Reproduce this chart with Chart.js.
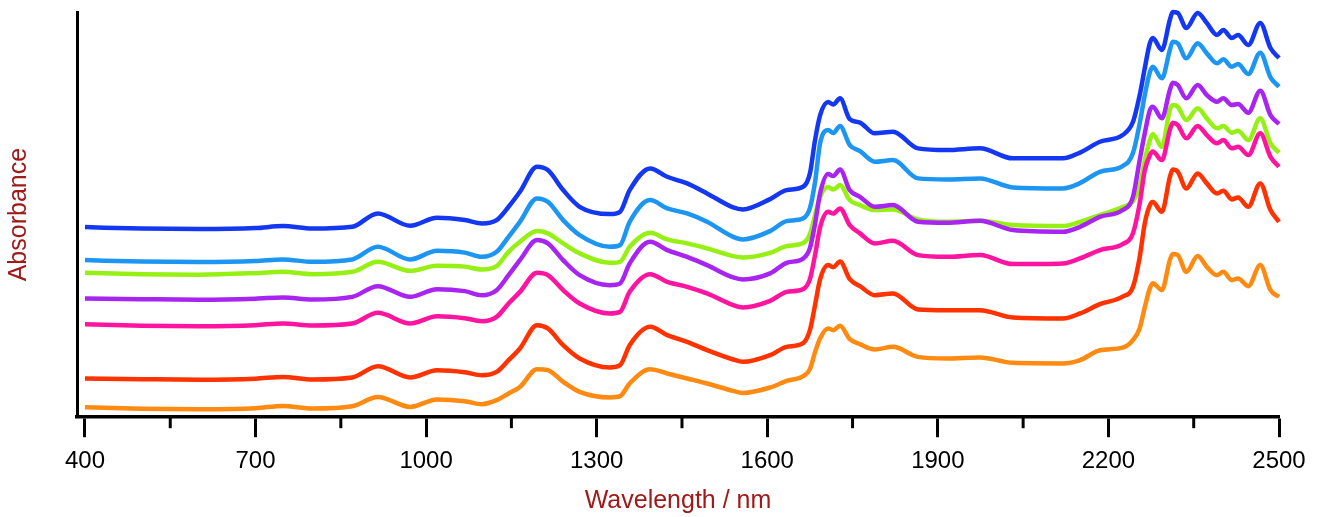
<!DOCTYPE html>
<html lang="en">
<head>
<meta charset="utf-8">
<title>Absorbance spectra</title>
<script src="https://cdn.jsdelivr.net/npm/chart.js@4.4.1/dist/chart.umd.min.js"></script>
<style>
    html, body { margin: 0; padding: 0; background: #fff; }
    #wrap { width: 1322px; height: 517px; position: relative; }
</style>
</head>
<body>
<div id="wrap"><canvas id="spectraChart"></canvas></div>
<script>
// wavelengths (nm) at which the curves were read
const wavelengths = [
    400, 500, 600, 700, 748, 800, 870, 915, 972, 1019,
    1068, 1098, 1124, 1145, 1165, 1195, 1214, 1241, 1270, 1323,
    1341, 1358, 1394, 1424, 1459, 1494, 1540, 1557, 1605, 1634,
    1663, 1675, 1684, 1693, 1707, 1716, 1728, 1745, 1763, 1789,
    1821, 1865, 1916, 1974, 2032, 2120, 2150, 2185, 2225, 2243,
    2255, 2264, 2273, 2278, 2294, 2308, 2313, 2322, 2337, 2357,
    2373, 2391, 2402, 2417, 2428, 2446, 2467, 2485, 2500
];

// absorbance, arbitrary units (spectra are stacked)
const blueSpectrum = [
    1.90, 1.885, 1.88, 1.89, 1.91, 1.885, 1.903, 2.037, 1.913, 1.993,
    1.97, 1.937, 1.97, 2.103, 2.253, 2.503, 2.47, 2.27, 2.103, 2.03,
    2.053, 2.27, 2.487, 2.403, 2.337, 2.237, 2.097, 2.077, 2.18, 2.27,
    2.303, 2.437, 2.77, 3.02, 3.15, 3.125, 3.187, 2.98, 2.945, 2.837,
    2.853, 2.687, 2.67, 2.687, 2.587, 2.587, 2.645, 2.753, 2.82, 2.95,
    3.22, 3.49, 3.74, 3.79, 3.67, 3.97, 4.05, 4.04, 3.89, 4.04,
    3.94, 3.82, 3.87, 3.79, 3.82, 3.72, 3.94, 3.69, 3.59
];
const skyBlueSpectrum = [
    1.57, 1.555, 1.55, 1.56, 1.577, 1.553, 1.577, 1.703, 1.577, 1.663,
    1.645, 1.603, 1.653, 1.803, 1.953, 2.187, 2.153, 1.97, 1.82, 1.703,
    1.72, 1.953, 2.17, 2.087, 2.037, 1.953, 1.803, 1.777, 1.86, 1.96,
    1.987, 2.09, 2.35, 2.74, 2.87, 2.84, 2.91, 2.72, 2.66, 2.553,
    2.57, 2.387, 2.377, 2.387, 2.297, 2.287, 2.34, 2.453, 2.51, 2.637,
    2.937, 3.22, 3.45, 3.503, 3.387, 3.67, 3.753, 3.737, 3.587, 3.737,
    3.637, 3.537, 3.577, 3.503, 3.53, 3.43, 3.643, 3.397, 3.303
];
const greenSpectrum = [
    1.443, 1.43, 1.425, 1.44, 1.453, 1.43, 1.453, 1.553, 1.463, 1.513,
    1.505, 1.477, 1.51, 1.653, 1.753, 1.86, 1.837, 1.737, 1.637, 1.543,
    1.553, 1.703, 1.843, 1.777, 1.737, 1.687, 1.61, 1.597, 1.643, 1.71,
    1.74, 1.83, 2.02, 2.203, 2.30, 2.275, 2.32, 2.17, 2.12, 2.07,
    2.077, 1.977, 1.953, 1.963, 1.92, 1.91, 1.953, 2.02, 2.10, 2.16,
    2.31, 2.57, 2.77, 2.83, 2.703, 3.07, 3.12, 3.103, 2.97, 3.087,
    2.987, 2.887, 2.91, 2.843, 2.863, 2.77, 2.987, 2.737, 2.643
];
const purpleSpectrum = [
    1.187, 1.18, 1.175, 1.185, 1.197, 1.177, 1.203, 1.31, 1.203, 1.28,
    1.26, 1.22, 1.27, 1.42, 1.57, 1.77, 1.737, 1.57, 1.42, 1.32,
    1.337, 1.537, 1.753, 1.67, 1.603, 1.52, 1.397, 1.377, 1.437, 1.543,
    1.585, 1.69, 1.93, 2.24, 2.43, 2.41, 2.475, 2.27, 2.203, 2.103,
    2.12, 1.953, 1.943, 1.963, 1.87, 1.853, 1.903, 2.003, 2.07, 2.20,
    2.57, 2.84, 3.07, 3.103, 2.987, 3.27, 3.343, 3.32, 3.187, 3.32,
    3.22, 3.153, 3.187, 3.12, 3.13, 3.043, 3.263, 3.02, 2.93
];
const pinkSpectrum = [
    0.93, 0.915, 0.91, 0.92, 0.937, 0.917, 0.937, 1.043, 0.937, 1.01,
    0.99, 0.96, 1.003, 1.137, 1.253, 1.443, 1.42, 1.27, 1.137, 1.037,
    1.053, 1.253, 1.43, 1.353, 1.303, 1.237, 1.12, 1.097, 1.163, 1.253,
    1.28, 1.38, 1.62, 1.90, 2.053, 2.035, 2.087, 1.92, 1.837, 1.737,
    1.763, 1.62, 1.603, 1.62, 1.53, 1.537, 1.587, 1.67, 1.73, 1.837,
    2.137, 2.47, 2.62, 2.655, 2.57, 2.87, 2.943, 2.92, 2.787, 2.91,
    2.82, 2.737, 2.77, 2.687, 2.703, 2.62, 2.837, 2.603, 2.503
];
const redSpectrum = [
    0.387, 0.38, 0.375, 0.385, 0.403, 0.377, 0.397, 0.51, 0.397, 0.47,
    0.45, 0.42, 0.453, 0.57, 0.687, 0.92, 0.887, 0.72, 0.587, 0.497,
    0.52, 0.72, 0.903, 0.82, 0.753, 0.67, 0.577, 0.553, 0.62, 0.703,
    0.74, 0.87, 1.12, 1.38, 1.52, 1.50, 1.555, 1.38, 1.31, 1.22,
    1.237, 1.077, 1.07, 1.07, 0.997, 0.987, 1.037, 1.13, 1.205, 1.30,
    1.60, 1.94, 2.12, 2.15, 2.053, 2.40, 2.475, 2.453, 2.287, 2.437,
    2.337, 2.237, 2.263, 2.177, 2.197, 2.103, 2.337, 2.07, 1.953
];
const orangeSpectrum = [
    0.10, 0.085, 0.08, 0.09, 0.113, 0.087, 0.11, 0.203, 0.103, 0.177,
    0.16, 0.13, 0.17, 0.237, 0.303, 0.48, 0.47, 0.353, 0.253, 0.197,
    0.21, 0.337, 0.48, 0.437, 0.387, 0.337, 0.263, 0.243, 0.297, 0.363,
    0.41, 0.48, 0.65, 0.79, 0.887, 0.87, 0.915, 0.78, 0.73, 0.677,
    0.703, 0.603, 0.587, 0.597, 0.543, 0.537, 0.57, 0.67, 0.695, 0.77,
    0.89, 1.10, 1.29, 1.34, 1.27, 1.57, 1.63, 1.62, 1.453, 1.61,
    1.503, 1.42, 1.453, 1.37, 1.387, 1.31, 1.52, 1.27, 1.203
];

// x axis tick values
const xTickValues = [400, 550, 700, 850, 1000, 1150, 1300, 1450, 1600, 1750, 1900, 2050, 2200, 2350, 2500];
const xLabelValues = [400, 700, 1000, 1300, 1600, 1900, 2200, 2500];

document.addEventListener('DOMContentLoaded', function () {

    const titleRed = '#a01a1a';
    const fontFamily = "'Liberation Sans', Arial, sans-serif";

    const series = [
        { name: 'blue', data: blueSpectrum, color: '#1438f2', order: 1 },
        { name: 'sky', data: skyBlueSpectrum, color: '#1c96f2', order: 2 },
        { name: 'purple', data: purpleSpectrum, color: '#a824f0', order: 3 },
        { name: 'pink', data: pinkSpectrum, color: '#ff14a0', order: 4 },
        { name: 'green', data: greenSpectrum, color: '#96f014', order: 5 },
        { name: 'red', data: redSpectrum, color: '#ff3200', order: 6 },
        { name: 'orange', data: orangeSpectrum, color: '#ff8a12', order: 7 }
    ];

    // short minor tick marks under the x axis
    const minorTicks = {
        id: 'minorTicks',
        afterDraw(chart) {
            const scale = chart.scales.x;
            const ctx = chart.ctx;
            ctx.save();
            ctx.strokeStyle = '#000';
            ctx.lineWidth = 3;
            xTickValues.filter(v => !xLabelValues.includes(v)).forEach(v => {
                const px = scale.getPixelForValue(v);
                ctx.beginPath();
                ctx.moveTo(px, scale.top);
                ctx.lineTo(px, scale.top + 11);
                ctx.stroke();
            });
            ctx.restore();
        }
    };

    const ctx = document.getElementById('spectraChart').getContext('2d');
    new Chart(ctx, {
        type: 'line',
        data: {
            datasets: series.map(s => ({
                label: s.name,
                data: s.data.map((y, i) => ({ x: wavelengths[i], y: y })),
                borderColor: s.color,
                backgroundColor: s.color,
                borderWidth: 4.5,
                pointRadius: 0,
                cubicInterpolationMode: 'monotone',
                clip: false,
                order: s.order
            }))
        },
        options: {
            responsive: true,
            maintainAspectRatio: false,
            animation: false,
            layout: { padding: { top: 12, right: 43, left: 0, bottom: 0 } },
            plugins: {
                legend: { display: false },
                tooltip: { enabled: false }
            },
            scales: {
                x: {
                    type: 'linear',
                    min: 386,
                    max: 2500,
                    afterBuildTicks: scale => {
                        scale.ticks = xTickValues.map(v => ({ value: v }));
                    },
                    border: { display: true, color: '#000', width: 3.5 },
                    grid: {
                        display: true,
                        drawOnChartArea: false,
                        drawTicks: true,
                        tickLength: 20,
                        tickWidth: 3,
                        tickColor: c => (c.tick && xLabelValues.includes(c.tick.value)) ? '#000' : 'rgba(0,0,0,0)'
                    },
                    ticks: {
                        autoSkip: false,
                        maxRotation: 0,
                        padding: 10,
                        color: '#000',
                        font: { family: fontFamily, size: 24 },
                        callback: v => xLabelValues.includes(v) ? String(v) : ''
                    },
                    title: {
                        display: true,
                        text: 'Wavelength / nm',
                        color: titleRed,
                        font: { family: fontFamily, size: 25 },
                        padding: { top: 0, bottom: 1 }
                    }
                },
                y: {
                    min: 0,
                    max: 4.05,
                    border: { display: true, color: '#000', width: 3 },
                    grid: { display: false, drawTicks: false },
                    ticks: { display: false },
                    title: {
                        display: true,
                        text: 'Absorbance',
                        color: titleRed,
                        font: { family: fontFamily, size: 25 },
                        padding: { top: 4, bottom: 43 }
                    }
                }
            }
        },
        plugins: [minorTicks]
    });
});
</script>
</body>
</html>
